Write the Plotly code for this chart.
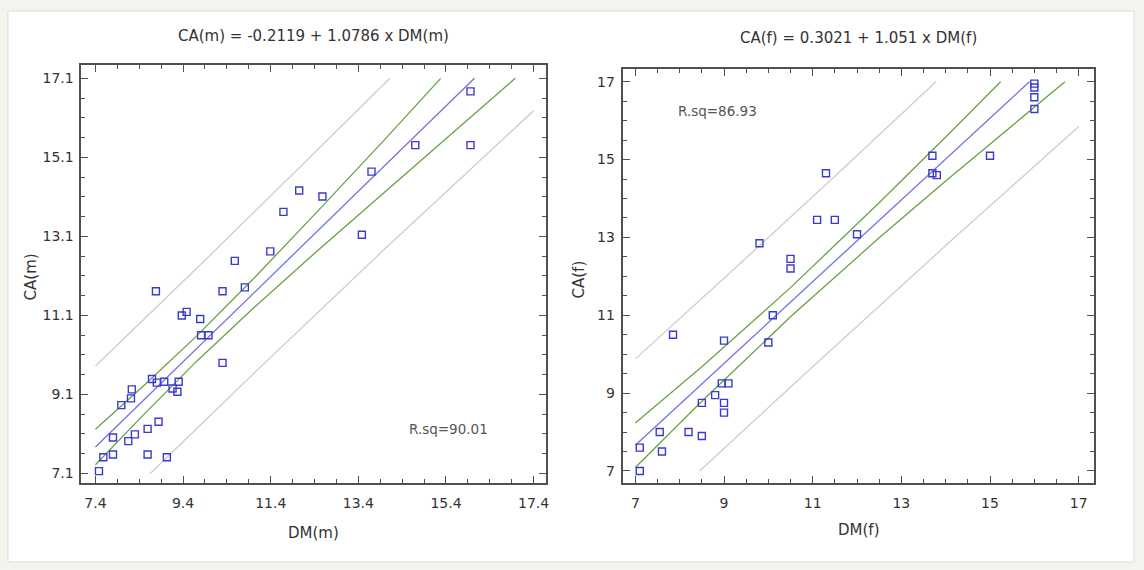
import plotly.graph_objects as go

# ---------------- data: male panel ----------------
dm_m = [7.48, 7.58, 7.80, 7.80, 8.15, 8.30, 7.99, 8.21, 8.23, 8.59, 8.59, 8.84, 9.03,
        8.69, 8.80, 8.97, 9.16, 9.27, 9.30, 8.78, 9.37, 9.48, 9.79, 9.81, 9.98, 10.30,
        10.30, 10.58, 10.81, 11.39, 11.69, 12.05, 12.58, 13.48, 13.70, 14.70, 15.96, 15.96]
ca_m = [7.16, 7.51, 7.58, 8.01, 7.92, 8.09, 8.83, 9.00, 9.23, 7.58, 8.23, 8.41, 7.51,
        9.49, 9.40, 9.42, 9.25, 9.17, 9.42, 11.71, 11.10, 11.19, 11.01, 10.60, 10.60, 9.90,
        11.71, 12.48, 11.81, 12.72, 13.72, 14.26, 14.11, 13.14, 14.74, 15.41, 15.41, 16.77]

# fitted line and limits (male)
fit_m_x = [7.40, 10.40, 13.40, 16.05]
fit_m_y = [7.77, 11.00, 14.24, 17.10]
ci_up_m_x = [7.40, 8.50, 9.70, 11.00, 12.50, 14.00, 15.28]
ci_up_m_y = [8.22, 9.32, 10.57, 12.02, 13.77, 15.55, 17.10]
ci_lo_m_x = [7.40, 8.50, 9.70, 11.00, 12.50, 14.00, 15.50, 16.98]
ci_lo_m_y = [7.32, 8.59, 9.93, 11.28, 12.77, 14.22, 15.66, 17.10]
pi_up_m_x = [7.40, 9.70, 12.00, 14.12]
pi_up_m_y = [9.82, 12.28, 14.78, 17.10]
pi_lo_m_x = [8.65, 11.00, 14.00, 17.40]
pi_lo_m_y = [7.10, 9.62, 12.78, 16.28]

# ---------------- data: female panel ----------------
dm_f = [7.1, 7.1, 7.55, 7.6, 7.85, 8.2, 8.5, 8.5, 8.8, 8.95, 9.1, 9.0, 9.0, 9.0, 10.0,
        10.1, 9.8, 10.5, 10.5, 11.1, 11.3, 11.5, 12.0, 13.7, 13.7, 13.8, 15.0, 16.0, 16.0,
        16.0, 16.0]
ca_f = [7.0, 7.6, 8.0, 7.5, 10.5, 8.0, 7.9, 8.75, 8.95, 9.25, 9.25, 8.75, 8.5, 10.35, 10.3,
        11.0, 12.85, 12.45, 12.2, 13.45, 14.65, 13.45, 13.08, 15.1, 14.65, 14.6, 15.1, 16.95,
        16.85, 16.6, 16.3]

fit_f_x = [7.00, 11.50, 15.89]
fit_f_y = [7.66, 12.39, 17.00]
ci_up_f_x = [7.00, 8.50, 10.50, 12.50, 14.00, 15.24]
ci_up_f_y = [8.23, 9.68, 11.71, 13.89, 15.58, 17.00]
ci_lo_f_x = [7.00, 8.50, 10.50, 12.50, 14.00, 15.50, 16.69]
ci_lo_f_y = [7.09, 8.79, 10.96, 12.99, 14.45, 15.88, 17.00]
pi_up_f_x = [7.00, 9.00, 11.50, 13.78]
pi_up_f_y = [9.88, 11.95, 14.57, 17.00]
pi_lo_f_x = [8.45, 11.00, 14.00, 17.00]
pi_lo_f_y = [7.00, 9.68, 12.79, 15.85]

# tick labels
xticks_m = [7.4, 9.4, 11.4, 13.4, 15.4, 17.4]
yticks_m = [7.1, 9.1, 11.1, 13.1, 15.1, 17.1]
xticks_f = [7, 9, 11, 13, 15, 17]
yticks_f = [7, 9, 11, 13, 15, 17]

title_m = "CA(m) = -0.2119 + 1.0786 x DM(m)"
title_f = "CA(f) = 0.3021 + 1.051 x DM(f)"
rsq_m = "R.sq=90.01"
rsq_f = "R.sq=86.93"

W, H = 1144, 570
FONT = "DejaVu Sans"
AXC = "#505050"
GRAY = "#cdcdcd"
GREEN = "#66a346"
BLUE = "#7272e0"
MARK = "#3a3ad0"

fig = go.Figure()


def add_lines(xa, ya, sets):
    for xs, ys, col in sets:
        fig.add_trace(go.Scatter(x=xs, y=ys, mode="lines", xaxis=xa, yaxis=ya,
                                 line=dict(color=col, width=1.3), hoverinfo="skip",
                                 showlegend=False))


add_lines("x", "y", [(pi_up_m_x, pi_up_m_y, GRAY), (pi_lo_m_x, pi_lo_m_y, GRAY),
                     (ci_up_m_x, ci_up_m_y, GREEN), (ci_lo_m_x, ci_lo_m_y, GREEN),
                     (fit_m_x, fit_m_y, BLUE)])
fig.add_trace(go.Scatter(x=dm_m, y=ca_m, mode="markers", xaxis="x", yaxis="y",
                         marker=dict(symbol="square-open", size=7, color=MARK,
                                     line=dict(width=1.4, color=MARK)),
                         showlegend=False))

add_lines("x2", "y2", [(pi_up_f_x, pi_up_f_y, GRAY), (pi_lo_f_x, pi_lo_f_y, GRAY),
                       (ci_up_f_x, ci_up_f_y, GREEN), (ci_lo_f_x, ci_lo_f_y, GREEN),
                       (fit_f_x, fit_f_y, BLUE)])
fig.add_trace(go.Scatter(x=dm_f, y=ca_f, mode="markers", xaxis="x2", yaxis="y2",
                         marker=dict(symbol="square-open", size=7, color=MARK,
                                     line=dict(width=1.4, color=MARK)),
                         showlegend=False))

# empty traces so the mirrored tick axes get drawn
fig.add_trace(go.Scatter(x=[], y=[], xaxis="x3", yaxis="y3", showlegend=False))
fig.add_trace(go.Scatter(x=[], y=[], xaxis="x4", yaxis="y4", showlegend=False))


def ax(rng, dom, tickvals, anchor, minor0, labels=True, side=None, overlay=None):
    d = dict(range=rng, domain=dom, anchor=anchor, tickmode="array",
             tickvals=tickvals, ticktext=[str(v) for v in tickvals],
             ticks="inside", ticklen=7, tickwidth=1.3, tickcolor=AXC,
             showline=True, linecolor=AXC, linewidth=2, mirror=True,
             showgrid=False, zeroline=False, showticklabels=labels,
             tickfont=dict(family=FONT, size=14, color="#333333"),
             minor=dict(tickmode="linear", tick0=minor0, dtick=0.5, ticks="inside",
                        ticklen=4, tickwidth=1, tickcolor=AXC, showgrid=False))
    if side:
        d["side"] = side
    if overlay:
        d["overlaying"] = overlay
        d.pop("domain")
    return d


def px(x):
    return x / W


def py(y):
    return 1 - y / H


XR_M, YR_M = [7.081, 17.689], [6.852, 17.437]
XR_F, YR_F = [6.714, 17.355], [6.699, 17.319]
XD_M, YD_M = [px(81.7), px(547.7)], [py(483.3), py(65)]
XD_F, YD_F = [px(624.3), px(1097.3)], [py(482.7), py(69.3)]

xl = ax(XR_M, XD_M, xticks_m, "y", 7.4)
yl = ax(YR_M, YD_M, yticks_m, "x", 7.1)
xr = ax(XR_F, XD_F, xticks_f, "y2", 7)
yr = ax(YR_F, YD_F, yticks_f, "x2", 7)
xl["ticklabelstandoff"] = 6
xr["ticklabelstandoff"] = 6
yl["ticklabelstandoff"] = 3
yr["ticklabelstandoff"] = 3

# mirrored tick axes (top / right)
x3 = ax(XR_M, XD_M, xticks_m, "y3", 7.4, labels=False, side="top", overlay="x")
y3 = ax(YR_M, YD_M, yticks_m, "x3", 7.1, labels=False, side="right", overlay="y")
x4 = ax(XR_F, XD_F, xticks_f, "y4", 7, labels=False, side="top", overlay="x2")
y4 = ax(YR_F, YD_F, yticks_f, "x4", 7, labels=False, side="right", overlay="y2")
for a in (x3, y3, x4, y4):
    a["showline"] = False

annots = []


def txt(x, y, s, size, angle=0, color="#333333"):
    annots.append(dict(x=px(x), y=py(y), xref="paper", yref="paper", text=s,
                       showarrow=False, textangle=angle, xanchor="center",
                       yanchor="middle", font=dict(family=FONT, size=size, color=color)))


txt(314.7, 36.5, title_m, 15)
txt(860.8, 38, title_f, 15)
txt(314.7, 532.5, "DM(m)", 15)
txt(860.8, 530, "DM(f)", 15)
txt(31.5, 277, "CA(m)", 15, -90)
txt(581, 279, "CA(f)", 15, -90)
txt(450, 428.6, rsq_m, 13.5, color="#555555")
txt(719.8, 111, rsq_f, 13.5, color="#555555")

fig.update_layout(
    width=W, height=H, margin=dict(l=0, r=0, t=0, b=0),
    paper_bgcolor="#f4f4ee", plot_bgcolor="white",
    xaxis=xl, yaxis=yl, xaxis2=xr, yaxis2=yr,
    xaxis3=x3, yaxis3=y3, xaxis4=x4, yaxis4=y4,
    annotations=annots, showlegend=False,
    shapes=[dict(type="rect", xref="paper", yref="paper", x0=px(8), x1=px(1137),
                 y0=py(562), y1=py(11), fillcolor="white",
                 line=dict(color="#dcdcd4", width=1), layer="below")],
)

fig.write_html("out.html", include_plotlyjs=True,
               config={"displayModeBar": False},
               post_script="document.body.style.margin='0';")
